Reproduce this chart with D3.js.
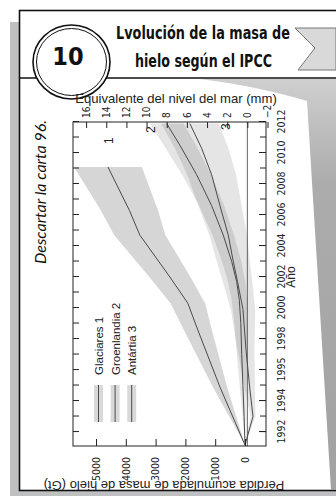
<!DOCTYPE html>
<html>
<head>
<meta charset="utf-8">
<script src="https://cdn.jsdelivr.net/npm/d3@7"></script>
<style>
  html, body { margin: 0; padding: 0; background: #fff; }
  svg { display: block; }
</style>
</head>
<body>
<svg id="card" width="336" height="496"></svg>
<script>
// valores: año, pérdida acumulada (Gt), semiancho de la banda (Gt)
const glacierYears = [1991.16, 1994.9, 1998.9, 2000.3, 2002.0, 2004.7, 2006.3, 2009.1];
const glacierGt    = [0, 840, 1646, 1915, 2520, 3528, 3880, 4600];
const glacierErr   = [0, 240, 490, 580, 690, 860, 960, 1140];

const greenlandYears = [1991.16, 1993, 1995, 1997, 1999, 2000.5, 2001.7, 2003.0, 2004.7, 2006.6, 2008.6, 2010.5, 2011.9];
const greenlandGt    = [0, 30, 70, 110, 140, 190, 279, 447, 729, 1119, 1623, 2184, 2630];
const greenlandErr   = [0, 50, 110, 165, 220, 255, 290, 325, 360, 420, 490, 540, 570];

const antarcticYears = [1991.16, 1993.0, 1994.7, 1997.3, 1999.9, 2001.7, 2003.0, 2004.7, 2006.6, 2008.6, 2010.3, 2011.9];
const antarcticGt    = [0, -269, -168, -34, 67, 250, 393, 561, 840, 1119, 1455, 1850];
const antarcticErr   = [0, 86, 165, 285, 410, 495, 555, 635, 725, 820, 900, 970];

const legendNames = ['Glaciares 1', 'Groenlandia 2', 'Antártia 3'];
const curveLabels = ['1', '2', '3'];
const curveLabelYears = [2010.8, 2011.5, 2011.7];
const curveLabelGt = [4570, 3160, 640];

const yearTicks  = [1992, 1994, 1996, 1998, 2000, 2002, 2004, 2006, 2008, 2010, 2012];
const yearLabels = ['1992', '1994', '1995', '1998', '2000', '2002', '2004', '2006', '2008', '2010', '2012'];
const gtTicks  = [0, 1000, 2000, 3000, 4000, 5000];
const seaTicks = [-2, 0, 2, 4, 6, 8, 10, 12, 14, 16];

const narrow = "'Liberation Sans Narrow','DejaVu Sans Condensed',sans-serif";
const sans = "'Liberation Sans',Arial,sans-serif";

const svg = d3.select('#card');

// sombra y tarjeta
svg.append('rect').attr('x', 10).attr('y', 22).attr('width', 330).attr('height', 474).attr('fill', '#bec0c2');
svg.append('rect').attr('x', 19.5).attr('y', 10.5).attr('width', 330).attr('height', 480)
  .attr('fill', '#fff').attr('stroke', '#111').attr('stroke-width', 1.6);

// hoja escaneada: sombra gris a la derecha
const defs = svg.append('defs');
const grad = defs.append('linearGradient').attr('id', 'curl').attr('x1', 0).attr('y1', 0).attr('x2', 0).attr('y2', 1);
grad.append('stop').attr('offset', 0).attr('stop-color', '#cfcfcf');
grad.append('stop').attr('offset', 0.25).attr('stop-color', '#acacac');
grad.append('stop').attr('offset', 1).attr('stop-color', '#a2a2a2');
svg.append('path')
  .attr('d', 'M336,79 L200,79 C240,84 278,92 307,101 L331,490 L336,490 Z')
  .attr('fill', 'url(#curl)');

// cabecera
svg.append('line').attr('x1', 19).attr('x2', 336).attr('y1', 78).attr('y2', 78)
  .attr('stroke', '#111').attr('stroke-width', 1.6);
svg.append('polygon').attr('points', '295,28 336,28 336,70 298,70 315,48')
  .attr('fill', '#d9d9d9').attr('stroke', '#777').attr('stroke-width', 1);
svg.append('ellipse').attr('cx', 71.5).attr('cy', 62).attr('rx', 38.5).attr('ry', 37)
  .attr('fill', '#fff').attr('stroke', '#111').attr('stroke-width', 1.6);
svg.append('ellipse').attr('cx', 71.5).attr('cy', 62).attr('rx', 35).attr('ry', 33.5)
  .attr('fill', 'none').attr('stroke', '#111').attr('stroke-width', 1);
svg.append('text').attr('x', 68).attr('y', 65).attr('text-anchor', 'middle')
  .style('font-family', narrow).style('font-weight', 'bold').style('font-size', '25px').attr('fill', '#111')
  .text('10');
svg.append('text').attr('x', 116).attr('y', 39).attr('textLength', 174).attr('lengthAdjust', 'spacingAndGlyphs')
  .style('font-family', "'DejaVu Sans Condensed',sans-serif").style('font-weight', 'bold').style('font-size', '18px')
  .attr('fill', '#111').text('Lvolución de la masa de');
svg.append('text').attr('x', 135).attr('y', 67).attr('textLength', 137).attr('lengthAdjust', 'spacingAndGlyphs')
  .style('font-family', "'DejaVu Sans Condensed',sans-serif").style('font-weight', 'bold').style('font-size', '18px')
  .attr('fill', '#111').text('hielo según el IPCC');

svg.append('text').attr('transform', 'translate(46,192) rotate(-90)').attr('text-anchor', 'middle')
  .style('font-family', 'Lato,sans-serif').style('font-style', 'italic').style('font-size', '16px')
  .attr('fill', '#111').text('Descartar la carta 96.');

// gráfico original girado 90° a la izquierda
const W = 324, H = 193;
const g = svg.append('g').attr('transform', 'translate(73,446) rotate(-90)');

const x = d3.scaleLinear().domain([1991.1, 2012.0]).range([0, W]);
const y = d3.scaleLinear().domain([-705, 5772]).range([H, 0]);
const sea = d3.scaleLinear().domain([-1.85, 17.3]).range([H, 0]);

defs.append('clipPath').attr('id', 'plot').append('rect').attr('width', W).attr('height', H);

const series = [
  { years: glacierYears, gt: glacierGt, err: glacierErr },
  { years: greenlandYears, gt: greenlandGt, err: greenlandErr },
  { years: antarcticYears, gt: antarcticGt, err: antarcticErr }
].map(s => s.years.map((yr, i) => ({ year: yr, gt: s.gt[i], err: s.err[i] })));

const area = d3.area()
  .x(d => x(d.year))
  .y0(d => y(d.gt - d.err))
  .y1(d => y(d.gt + d.err));
const line = d3.line().x(d => x(d.year)).y(d => y(d.gt));

const plot = g.append('g').attr('clip-path', 'url(#plot)');
plot.selectAll('path.band').data(series).join('path')
  .attr('class', 'band').attr('d', area).attr('fill', '#000')
  .attr('fill-opacity', (d, i) => i === 0 ? 0.16 : 0.1);
plot.append('line').attr('x1', 0).attr('x2', W).attr('y1', sea(0)).attr('y2', sea(0))
  .attr('stroke', '#555').attr('stroke-width', 0.9);
plot.selectAll('path.curve').data(series).join('path')
  .attr('class', 'curve').attr('d', line).attr('fill', 'none').attr('stroke', '#4a4a4a').attr('stroke-width', 1);

// ejes
function styleAxis(sel, size) {
  sel.select('.domain').remove();
  sel.selectAll('line').attr('stroke', '#222');
  sel.selectAll('text').style('font-family', narrow).style('font-size', size).attr('fill', '#222');
}
g.append('g').attr('transform', `translate(0,${H})`)
  .call(d3.axisBottom(x).tickValues(d3.range(1992, 2013)).tickSizeInner(-6).tickFormat(''))
  .call(s => styleAxis(s, '10px'));
g.append('g').attr('transform', `translate(0,${H})`)
  .call(d3.axisBottom(x).tickValues(yearTicks).tickFormat((d, i) => yearLabels[i]).tickSizeInner(-7).tickPadding(12))
  .call(s => styleAxis(s, '10.5px'));
g.append('g')
  .call(d3.axisTop(x).tickValues(d3.range(1992, 2013)).tickSizeInner(-6).tickFormat(''))
  .call(s => styleAxis(s, '10px'));
g.append('g')
  .call(d3.axisLeft(y).tickValues(gtTicks).tickFormat(d3.format('d')).tickSizeInner(-7).tickPadding(11))
  .call(s => styleAxis(s, '10.5px'));
g.append('g').attr('transform', `translate(${W},0)`)
  .call(d3.axisRight(sea).tickValues(seaTicks).tickSizeInner(-6).tickPadding(4))
  .call(s => styleAxis(s, '10px'));

g.append('rect').attr('width', W).attr('height', H)
  .attr('fill', 'none').attr('stroke', '#222').attr('stroke-width', 1);

g.append('text').attr('x', x(2002)).attr('y', H + 29).attr('text-anchor', 'middle')
  .style('font-family', sans).style('font-size', '12px').attr('fill', '#222').text('Año');

// etiquetas de curvas
g.selectAll('text.clabel').data(curveLabels).join('text')
  .attr('class', 'clabel')
  .attr('x', (d, i) => x(curveLabelYears[i]))
  .attr('y', (d, i) => y(curveLabelGt[i]))
  .attr('dy', '0.35em').attr('text-anchor', 'middle')
  .style('font-family', sans).style('font-size', '12px').attr('fill', '#222')
  .text(d => d);

// leyenda
const leg = g.append('g').selectAll('g').data(legendNames).join('g')
  .attr('transform', (d, i) => `translate(24,${25.5 + i * 16.6})`);
leg.append('rect').attr('y', -4.5).attr('width', 37).attr('height', 9).attr('fill', '#000').attr('fill-opacity', 0.15);
leg.append('line').attr('x2', 37).attr('stroke', '#4a4a4a').attr('stroke-width', 1);
leg.append('text').attr('x', 47).attr('y', 4.5)
  .style('font-family', sans).style('font-size', '11.5px').attr('fill', '#222').text(d => d);

// títulos de ejes (en coordenadas de la tarjeta)
svg.append('text').attr('x', 176).attr('y', 103).attr('text-anchor', 'middle')
  .style('font-family', sans).style('font-size', '13.1px').attr('fill', '#222')
  .text('Equivalente del nivel del mar (mm)');
svg.append('text').attr('transform', 'translate(164,481) rotate(180)').attr('text-anchor', 'middle')
  .style('font-family', sans).style('font-size', '13px').attr('fill', '#222')
  .text('Pérdida acumulada de masa de hielo (Gt)');
</script>
</body>
</html>
